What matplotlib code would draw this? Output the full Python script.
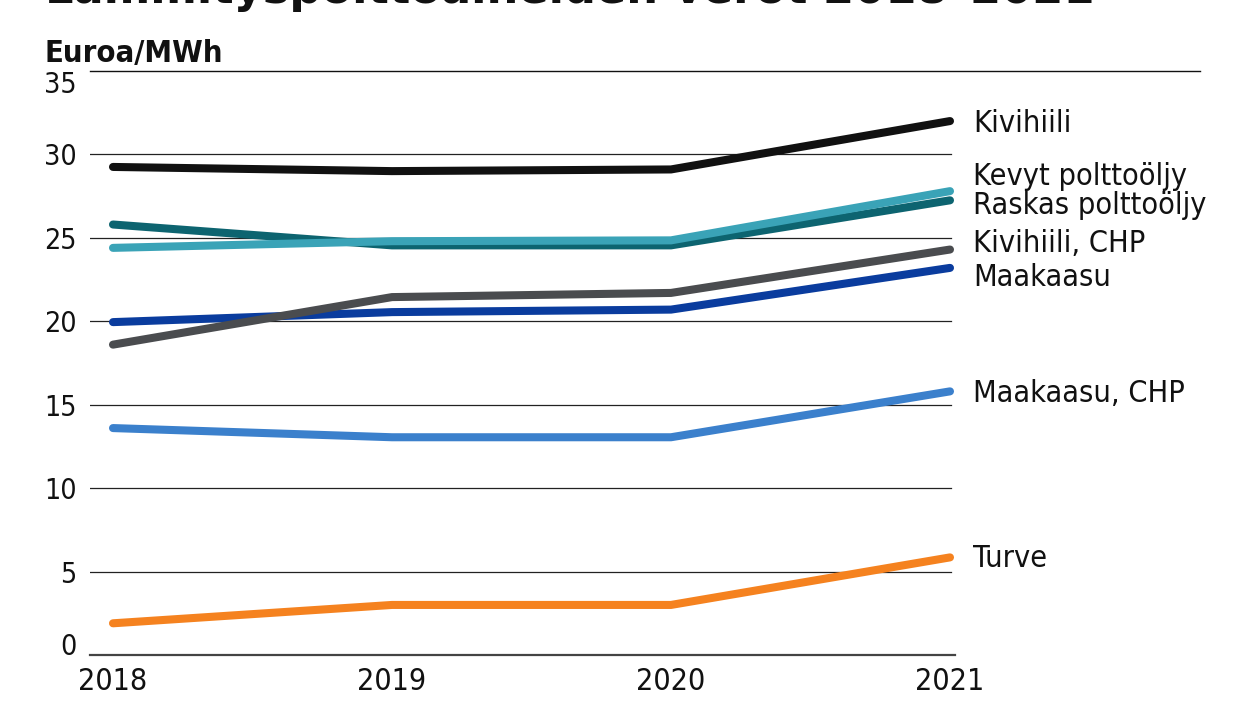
import matplotlib
matplotlib.use("Agg")
import matplotlib.pyplot as plt
from matplotlib import font_manager as fm
from matplotlib.font_manager import FontProperties

# ---------------- data ----------------
years = [2018, 2019, 2020, 2021]
series_names = ["Kivihiili", "Raskas polttoöljy", "Kevyt polttoöljy",
                "Maakaasu", "Kivihiili, CHP", "Maakaasu, CHP", "Turve"]
kivihiili = [29.25, 29.0, 29.1, 32.0]
raskas_polttooljy = [25.8, 24.55, 24.55, 27.25]
kevyt_polttooljy = [24.4, 24.8, 24.85, 27.8]
maakaasu = [19.95, 20.55, 20.7, 23.2]
kivihiili_chp = [18.6, 21.45, 21.7, 24.3]
maakaasu_chp = [13.6, 13.05, 13.05, 15.8]
turve = [1.9, 3.0, 3.0, 5.85]
yticks = [0, 5, 10, 15, 20, 25, 30, 35]
title_text = "Lämmityspolttoaineiden verot 2018–2021"
unit_text = "Euroa/MWh"

values = [kivihiili, raskas_polttooljy, kevyt_polttooljy, maakaasu,
          kivihiili_chp, maakaasu_chp, turve]

# ---------------- style ----------------
colors = {
    "Kivihiili": "#111111",
    "Raskas polttoöljy": "#0d6470",
    "Kevyt polttoöljy": "#3aa3b7",
    "Maakaasu": "#0a3c9e",
    "Kivihiili, CHP": "#4a4c4f",
    "Maakaasu, CHP": "#3b80cc",
    "Turve": "#f5821f",
}
# vertical nudge of end labels in pixels (positive = up)
label_nudge_px = {
    "Kivihiili": 0, "Raskas polttoöljy": -3, "Kevyt polttoöljy": 17,
    "Maakaasu": -8, "Kivihiili, CHP": 8, "Maakaasu, CHP": 0, "Turve": 1,
}

def find_font(pred):
    for f in fm.fontManager.ttflist:
        if pred(f):
            return f.fname
    return None

reg_c = find_font(lambda f: f.name == "DejaVu Sans" and "Condensed" in f.fname
                  and "Bold" not in f.fname and "Oblique" not in f.fname)
bold_c = find_font(lambda f: f.name == "DejaVu Sans" and "Condensed-Bold." in f.fname)

def reg(size):
    if reg_c:
        return FontProperties(fname=reg_c, size=size)
    narrow = find_font(lambda f: f.name == "Liberation Sans Narrow" and f.weight in (400, "normal"))
    if narrow:
        return FontProperties(fname=narrow, size=size * 1.07)
    return FontProperties(family="DejaVu Sans", size=size * 0.92)

def bold(size):
    if bold_c:
        return FontProperties(fname=bold_c, size=size)
    return FontProperties(family="DejaVu Sans", weight="bold", size=size * 0.92)

fp_ytick = reg(20.5)
fp_xtick = reg(21.8)
fp_label = reg(22.0)
fp_unit = bold(22.2)

W, H = 1248, 702
fig = plt.figure(figsize=(W / 100, H / 100), dpi=100)
fig.patch.set_facecolor("white")

ax_left, ax_right, ax_top, ax_bot = 90, 955, 71, 655
ax = fig.add_axes([ax_left / W, (H - ax_bot) / H,
                   (ax_right - ax_left) / W, (ax_bot - ax_top) / H])
ppy = (950 - 113) / 3.0
ax.set_xlim(years[0] - (113 - ax_left) / ppy, years[-1] + (ax_right - 950) / ppy)
ax.set_ylim(yticks[0], yticks[-1])
for s in ax.spines.values():
    s.set_visible(False)
ax.set_facecolor("none")

# gridlines
grid_end = (951 - ax_left) / (ax_right - ax_left)
for v in yticks:
    if v == yticks[-1]:
        ax.axhline(v, xmin=0, xmax=(1200 - ax_left) / (ax_right - ax_left),
                   color="#111111", lw=1.0, clip_on=False, zorder=1)
    elif v == yticks[0]:
        ax.axhline(v, xmin=0, xmax=1.0, color="#444444", lw=1.6,
                   clip_on=False, zorder=1)
    else:
        ax.axhline(v, xmin=0, xmax=grid_end, color="#222222", lw=0.9, zorder=1)

# lines
for name, vals in zip(series_names, values):
    ax.plot(years, vals, color=colors[name], lw=5.8, solid_capstyle="round",
            solid_joinstyle="round", zorder=3, clip_on=False)
    ax.annotate(name, xy=(years[-1], vals[-1]), xycoords="data",
                xytext=(16.5, (label_nudge_px[name] - 10.5) / 1.389),
                textcoords="offset points", ha="left", va="baseline",
                fontproperties=fp_label, color="#111111", annotation_clip=False)

# ticks
ax.set_xticks(years)
ax.set_xticklabels([str(y) for y in years], fontproperties=fp_xtick, color="#111111")
ax.set_yticks(yticks)
ax.set_yticklabels([str(v) for v in yticks], fontproperties=fp_ytick, color="#111111")
ax.tick_params(axis="both", length=0)
ax.tick_params(axis="y", pad=9.5)
ax.tick_params(axis="x", pad=8.5)
ylabs = ax.get_yticklabels()
ylabs[0].set_va("baseline")
ylabs[-1].set_va("top")

# unit label
fig.text(45 / W, 1 - 62 / H, unit_text, fontproperties=fp_unit,
         ha="left", va="baseline", color="#111111")

# title, cut off at the top edge as in the reference
title_fp = FontProperties(family="DejaVu Sans", weight="bold", size=36)
t = fig.text(45 / W, 1 - 3 / H, title_text, fontproperties=title_fp,
             ha="left", va="baseline", color="#111111")
fig.canvas.draw()
bb = t.get_window_extent()
scale = (1097 - 45) / bb.width
title_fp.set_size(36 * scale)
t.set_fontproperties(title_fp)

fig.savefig("out.png", dpi=100, facecolor="white")
